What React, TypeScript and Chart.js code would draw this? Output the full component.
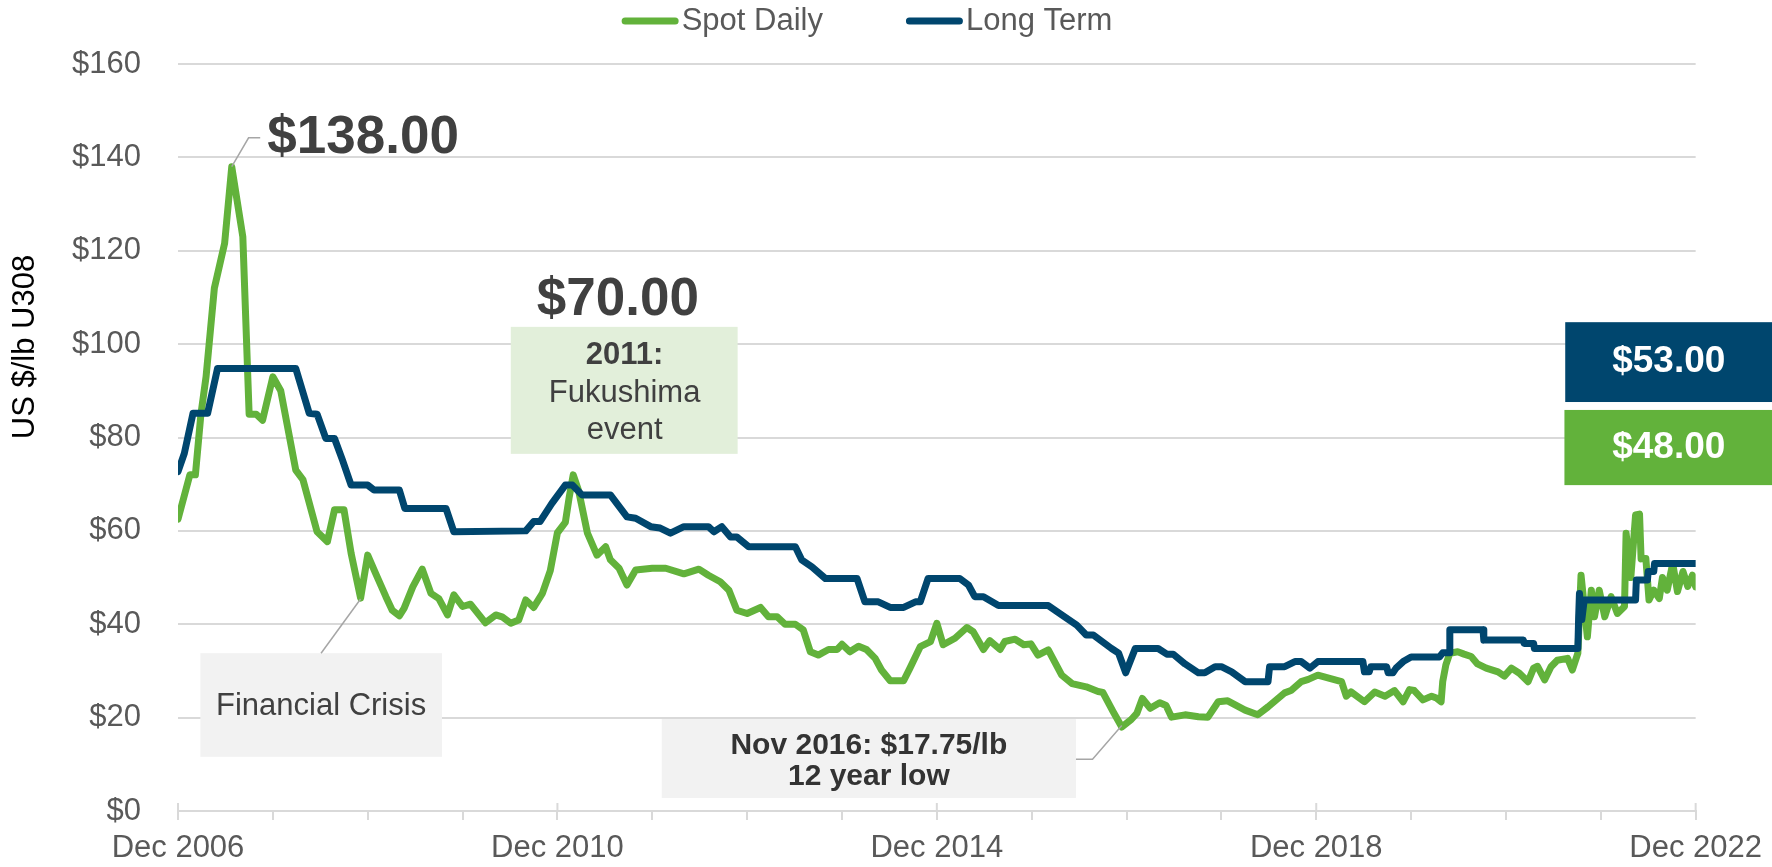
import React, { useEffect, useRef } from "react";
import { Chart, registerables } from "chart.js";

Chart.register(...registerables);

// ---------- data ----------
const seriesNames = ["Spot Daily", "Long Term"];

// x values are months since Dec 2006
const spotMonths = [0,1.5,2.2,2.9,3.55,4.6,5.9,6.8,8.2,9.0,9.9,10.7,12,13,14.9,15.8,17.6,18.9,19.8,21,21.9,23.1,24,25,26.3,27.1,28,28.6,29.7,30.9,32,33,34.1,34.9,36,37,38.9,40.2,41,42.1,43.1,44,45,46.1,47.1,48,49,49.5,50,50.7,51.8,53,54.1,54.7,55.8,56.8,57.9,60,61.7,64,65.9,67.1,68.6,69.7,70.7,72,73.7,74.7,75.8,76.8,78.1,79.1,80,81,82.3,83.4,84,85,86.1,87.1,88.2,89,90.1,91.8,92.6,93.9,95.2,96,96.8,98.3,99.8,100.6,101.9,102.7,104,104.6,105.9,107,107.9,108.8,110.1,111.8,113.1,114.9,116.4,117,118.3,119.4,120.6,121.3,122,123,124.2,125,125.7,127.4,129.1,130.3,131.6,132.8,135,136.6,137.9,140,140.8,142.1,143,144.2,147.2,147.8,148.4,150.1,151.4,152.7,153.9,155,155.8,156.4,157.5,158.6,159.2,159.8,160,160.4,160.9,161.9,162.7,163.6,164.4,165.5,167,167.8,168.7,169.7,170.8,171.5,172,172.9,173.7,174.5,175.8,176.4,177.1,177.5,178.3,178.8,179.2,179.8,180.5,181.3,182.1,183,183.2,183.8,184.4,184.9,185.1,185.7,186.1,186.7,187.4,187.8,188.4,189.1,189.7,190.4,191,191.6,192];
const spotPrices = [62.5,72,72,85,93,112,121.6,138,123,85,85,83.7,93,90,73,71,59.8,57.7,64.5,64.5,55.2,45.6,54.8,50.9,45.9,43,41.8,43.4,48,51.8,46.6,45.5,42,46.3,43.8,44.3,40.3,42,41.6,40.2,40.9,45.2,43.6,46.6,51.5,59.6,61.8,67.3,72,68.5,59.5,54.8,56.6,53.8,52,48.4,51.6,52,52,50.8,51.8,50.5,49.1,47.3,43,42.3,43.6,41.6,41.6,40,40,38.8,34.1,33.4,34.6,34.6,35.7,34.1,35.3,34.6,32.7,30.2,27.9,27.9,30.6,35.2,36.3,40.2,35.6,37,39.3,38.4,34.6,36.5,34.6,36.3,36.8,35.6,35.8,33.4,34.5,29.1,27.3,26.6,25.6,25.4,21.3,18,19.6,20.9,24.1,22,23.2,22.6,20.1,20.6,20.2,20.1,23.4,23.6,21.6,20.6,22.3,25.3,25.8,27.7,28.2,29.1,27.7,24.6,25.5,23.4,25.5,24.6,25.8,23.4,26,25.8,23.8,24.6,24.2,23.4,27.7,31.3,33.8,34.1,33.6,33.1,31.5,30.6,29.8,28.9,30.6,29.5,27.7,30.6,31,28.1,30.9,32.3,32.7,30.2,33.8,50.5,37.3,47.3,41.6,47.3,41.6,45.9,42.3,43.8,59.5,50,63.4,63.6,54,54.1,45.2,47.3,45.5,50,47.3,53,47,51.3,48.1,50.5,48];

const termMonths = [0,0.8,1.9,3.75,5,14.9,16.6,17.6,18.7,19.8,20.8,21.9,24,24.8,28,28.7,33.9,34.9,44,45,45.8,47.3,49,49.9,51.1,54.7,56.8,57.9,59.8,61,62.3,64,67.1,67.8,68.8,69.9,70.7,72.2,78.1,78.9,80.2,81.9,85.9,86.9,88.6,90.1,91.8,93.3,93.9,94.9,98.9,100,100.8,101.9,103.8,110.1,111.8,113.7,114.9,115.8,118.1,119,119.9,121.1,124,125.1,125.9,127.4,129.1,129.9,131.2,132,133.3,135,137.9,138.1,140,141.3,142.1,143.2,144.2,149.9,150.1,150.7,150.9,152.9,153.1,153.7,154.1,155,156,159.6,160,160.8,160.9,165.1,165.2,170.2,170.3,171.5,171.6,177.1,177.2,177.3,177.6,177.9,184.4,184.5,185.9,186,186.7,186.8,192];
const termPrices = [72.7,76.6,85.2,85.2,94.8,94.8,85.2,85,79.8,79.8,75.2,69.8,69.8,68.75,68.75,64.8,64.8,59.8,60,62,62,65.9,69.8,69.8,67.7,67.7,63,62.7,60.9,60.6,59.5,60.9,60.9,59.8,60.9,58.7,58.7,56.6,56.6,53.8,52.3,49.8,49.8,44.8,44.8,43.6,43.6,44.8,44.8,49.8,49.8,48.4,45.9,45.9,44,44,42,39.8,37.7,37.7,34.8,33.8,29.6,34.8,34.8,33.6,33.6,31.5,29.6,29.6,30.9,30.9,29.8,27.7,27.7,30.9,30.9,32,32,30.6,32,32,29.8,29.8,30.9,30.9,29.6,29.6,30.6,32,33,33,33.9,33.9,38.8,38.8,36.6,36.6,35.9,35.9,34.8,34.8,41.6,46.6,41,45.2,45.2,49.5,49.5,51.3,51.3,53,53];

const yTickValues = [0, 20, 40, 60, 80, 100, 120, 140, 160];
const xTickMonths = [0, 12, 24, 36, 48, 60, 72, 84, 96, 108, 120, 132, 144, 156, 168, 180, 192];
const xLabelMonths = [0, 48, 96, 144, 192];
const xLabels = ["Dec 2006", "Dec 2010", "Dec 2014", "Dec 2018", "Dec 2022"];
const yAxisTitle = "US $/lb U308";

// ---------- styles ----------
const FONT = "'Liberation Sans', Arial, Helvetica, sans-serif";
const GREEN = "#62B23B";
const NAVY = "#00466E";
const GRID = "#D9D9D9";
const TICK = "#595959";
const DARK = "#404040";

// annotation boxes (data units: month, price)
const boxes = [
  { m1: 42.1, m2: 70.8, v1: 103.7, v2: 76.5, fill: "#E2EFDA" },
  { m1: 2.83, m2: 33.4, v1: 33.8, v2: 11.6, fill: "#F2F2F2" },
  { m1: 61.2, m2: 113.6, v1: 19.7, v2: 2.8, fill: "#F2F2F2" },
  { m1: 175.5, m2: 202, v1: 104.7, v2: 87.6, fill: NAVY },
  { m1: 175.4, m2: 202, v1: 85.9, v2: 69.8, fill: GREEN },
];
const leaders = [
  [[6.8, 138], [8.93, 144.2], [10.4, 144.2]],
  [[18.1, 33.8], [23.1, 45.4]],
  [[113.6, 11.1], [115.7, 11.1], [119.4, 18.3]],
];
const texts = [
  { text: "$138.00", m: 11.3, v: 144, size: 53, bold: true, color: DARK, align: "left" },
  { text: "$70.00", m: 55.65, v: 109.4, size: 53, bold: true, color: DARK, align: "center" },
  { text: "2011:", m: 56.5, v: 97.5, size: 31, bold: true, color: DARK, align: "center" },
  { text: "Fukushima", m: 56.5, v: 89.5, size: 31, bold: false, color: DARK, align: "center" },
  { text: "event", m: 56.5, v: 81.6, size: 31, bold: false, color: DARK, align: "center" },
  { text: "Financial Crisis", m: 18.1, v: 22.5, size: 31, bold: false, color: DARK, align: "center" },
  { text: "Nov 2016: $17.75/lb", m: 87.4, v: 13.9, size: 30, bold: true, color: "#333333", align: "center" },
  { text: "12 year low", m: 87.4, v: 7.3, size: 30, bold: true, color: "#333333", align: "center" },
  { text: "$53.00", m: 188.6, v: 96.2, size: 37, bold: true, color: "#FFFFFF", align: "center" },
  { text: "$48.00", m: 188.6, v: 77.9, size: 37, bold: true, color: "#FFFFFF", align: "center" },
];

const overlayPlugin = {
  id: "overlay",
  afterDraw(chart: any) {
    const ctx = chart.ctx as CanvasRenderingContext2D;
    const xs = chart.scales.x;
    const ys = chart.scales.y;
    const X = (m: number) => xs.getPixelForValue(m);
    const Y = (v: number) => ys.getPixelForValue(v);
    ctx.save();

    // major tick marks crossing the axis
    ctx.strokeStyle = GRID;
    ctx.lineWidth = 2;
    for (const m of xLabelMonths) {
      const px = X(m);
      ctx.beginPath();
      ctx.moveTo(px, ys.bottom - 8);
      ctx.lineTo(px, ys.bottom);
      ctx.stroke();
    }

    // boxes
    for (const b of boxes) {
      const x1 = X(b.m1), x2 = X(b.m2), y1 = Y(b.v1), y2 = Y(b.v2);
      ctx.fillStyle = b.fill;
      ctx.fillRect(x1, y1, x2 - x1, y2 - y1);
    }

    // leader lines
    ctx.strokeStyle = "#A6A6A6";
    ctx.lineWidth = 1.5;
    for (const l of leaders) {
      ctx.beginPath();
      l.forEach((p, i) => {
        if (i === 0) ctx.moveTo(X(p[0]), Y(p[1]));
        else ctx.lineTo(X(p[0]), Y(p[1]));
      });
      ctx.stroke();
    }

    // texts
    ctx.textBaseline = "middle";
    for (const t of texts) {
      ctx.font = `${t.bold ? "bold " : ""}${t.size}px ${FONT}`;
      ctx.fillStyle = t.color;
      ctx.textAlign = t.align as CanvasTextAlign;
      ctx.fillText(t.text, X(t.m), Y(t.v));
    }

    // legend
    const colors = [GREEN, NAVY];
    ctx.font = `31px ${FONT}`;
    const lineLen = 57, gap = 3, itemGap = 83;
    const widths = seriesNames.map((n) => ctx.measureText(n).width);
    const total = widths.reduce((a, w) => a + lineLen + gap + w, 0) + itemGap * (seriesNames.length - 1);
    let lx = 867 - total / 2;
    const ly = 21;
    ctx.textAlign = "left";
    ctx.lineCap = "round";
    seriesNames.forEach((n, i) => {
      ctx.strokeStyle = colors[i];
      ctx.lineWidth = 7;
      ctx.beginPath();
      ctx.moveTo(lx + 3.5, ly);
      ctx.lineTo(lx + lineLen - 3.5, ly);
      ctx.stroke();
      ctx.fillStyle = TICK;
      ctx.fillText(n, lx + lineLen + gap, ly);
      lx += lineLen + gap + widths[i] + itemGap;
    });

    // y axis title
    ctx.translate(25, 347);
    ctx.rotate(-Math.PI / 2);
    ctx.fillStyle = "#000000";
    ctx.font = `31px ${FONT}`;
    ctx.textAlign = "center";
    ctx.fillText(yAxisTitle, 0, 0);

    ctx.restore();
  },
};

export default function App() {
  const ref = useRef<HTMLCanvasElement | null>(null);
  useEffect(() => {
    document.body.style.margin = "0";
    const canvas = ref.current;
    if (!canvas) return;
    const chart = new Chart(canvas, {
      type: "line",
      data: {
        datasets: [
          {
            label: seriesNames[0],
            data: spotMonths.map((m, i) => ({ x: m, y: spotPrices[i] })),
            borderColor: GREEN,
            backgroundColor: GREEN,
            borderWidth: 7,
            pointRadius: 0,
            tension: 0,
            borderJoinStyle: "round",
            borderCapStyle: "round",
            order: 1,
          },
          {
            label: seriesNames[1],
            data: termMonths.map((m, i) => ({ x: m, y: termPrices[i] })),
            borderColor: NAVY,
            backgroundColor: NAVY,
            borderWidth: 7,
            pointRadius: 0,
            tension: 0,
            borderJoinStyle: "round",
            borderCapStyle: "round",
            order: 0,
          },
        ],
      },
      options: {
        animation: false,
        responsive: true,
        maintainAspectRatio: false,
        events: [],
        layout: { padding: { top: 64, right: 74, left: 0, bottom: 0 } },
        plugins: {
          legend: { display: false },
          tooltip: { enabled: false },
          title: { display: false },
        },
        scales: {
          x: {
            type: "linear",
            min: 0,
            max: 192,
            afterBuildTicks: (s: any) => {
              s.ticks = xTickMonths.map((v) => ({ value: v }));
            },
            afterFit: (s: any) => {
              s.height = 56;
            },
            ticks: {
              autoSkip: false,
              maxRotation: 0,
              minRotation: 0,
              padding: 10,
              color: TICK,
              font: { family: FONT, size: 31 },
              callback: (v: any) => {
                const i = xLabelMonths.indexOf(Number(v));
                return i >= 0 ? xLabels[i] : "";
              },
            },
            grid: { drawOnChartArea: false, drawTicks: true, tickLength: 9, color: GRID, lineWidth: 2 },
            border: { display: true, color: GRID, width: 2 },
          },
          y: {
            min: 0,
            max: 160,
            afterBuildTicks: (s: any) => {
              s.ticks = yTickValues.map((v) => ({ value: v }));
            },
            afterFit: (s: any) => {
              s.width = 178;
            },
            ticks: {
              padding: 37,
              color: TICK,
              font: { family: FONT, size: 31 },
              callback: (v: any) => "$" + v,
            },
            grid: { color: GRID, lineWidth: 2, drawTicks: false },
            border: { display: false },
          },
        },
      },
      plugins: [overlayPlugin],
    } as any);
    return () => chart.destroy();
  }, []);

  return (
    <div style={{ position: "fixed", left: 0, top: 0, width: 1772, height: 867, background: "#fff" }}>
      <canvas ref={ref} />
    </div>
  );
}
